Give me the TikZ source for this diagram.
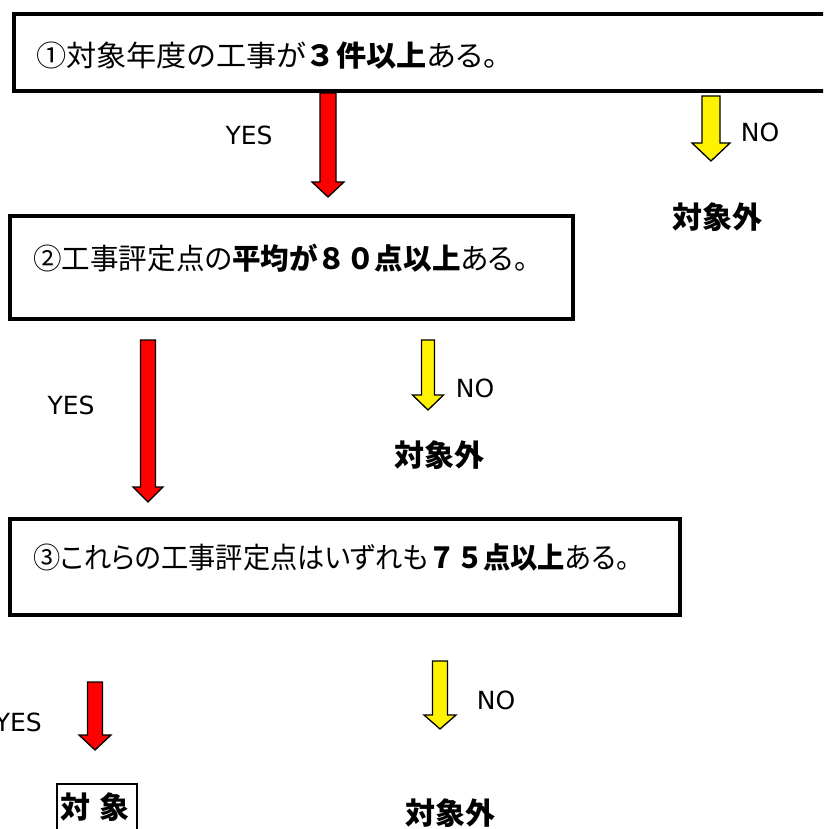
\documentclass[tikz,border=0pt]{standalone}
\usepackage{fontspec}
\setmainfont{Noto Sans CJK JP}[RawFeature=+palt]
\newfontfamily\fwfont{Noto Sans CJK JP}
\newfontfamily\latinfont{DejaVu Sans}
\newcommand\fwd[1]{{\fwfont\bfseries #1}}
\begin{document}
\begin{tikzpicture}[x=1pt,y=-1pt,
  condbox/.style={draw=black,line width=3.5pt,fill=white},
  condtext/.style={anchor=west,inner sep=0pt,font=\fontsize{29}{34}\selectfont},
  yeslabel/.style={inner sep=0pt,font=\latinfont\fontsize{25}{30}\selectfont},
  outlabel/.style={inner sep=0pt,font=\bfseries\fontsize{30}{34}\selectfont},
  redfill/.style={fill=red,draw=black,line width=1.3pt,line join=miter},
  yellowfill/.style={fill=yellow,draw=black,line width=1.3pt,line join=miter}]
\useasboundingbox (0,0) rectangle (823,829);
\clip (0,0) rectangle (823,829);
\fill[white] (0,0) rectangle (823,829);
% block arrow macro: #1 style, #2 cx, #3 top, #4 tip, #5 half shaft, #6 half head, #7 head length
\newcommand\blockarrow[7]{%
  \draw[#1] ({#2-#5},#3) -- ({#2+#5},#3) -- ({#2+#5},{#4-#7}) -- ({#2+#6},{#4-#7})
    -- (#2,#4) -- ({#2-#6},{#4-#7}) -- ({#2-#5},{#4-#7}) -- cycle;}
% boxes
\draw[condbox] (14,14) rectangle (845,91);
\node[condtext] (t1) at (36,56) {\scalebox{1.04}[1]{①対象年度の工事が\fwd{３}\textbf{件以上}ある。}};
\draw[condbox] (10,216) rectangle (573,319);
\node[condtext] (t2) at (33,258) {\scalebox{0.985}[1]{②工事評定点の\textbf{平均が}\fwd{８０}\textbf{点以上}ある。}};
\draw[condbox] (10,519) rectangle (680,615);
\node[condtext] (t3) at (33,557) {\scalebox{0.94}[1]{③これらの工事評定点はいずれも\fwd{７５}\textbf{点以上}ある。}};
% arrows
\blockarrow{redfill}{328}{93}{197}{8}{16}{15}
\blockarrow{yellowfill}{711}{96}{161}{9}{19}{18}
\blockarrow{redfill}{148}{340}{502}{7.5}{15}{15}
\blockarrow{yellowfill}{428}{340}{410}{6.5}{15.5}{15}
\blockarrow{redfill}{95}{682}{750}{7.5}{16}{15}
\blockarrow{yellowfill}{440}{661}{729}{7.5}{16}{14}
% labels
\node[yeslabel] (y1) at (249,135) {YES};
\node[yeslabel] (n1) at (760,132) {NO};
\node[outlabel] (o1) at (717,217) {対象外};
\node[yeslabel] (y2) at (71,405) {YES};
\node[yeslabel] (n2) at (475,388) {NO};
\node[outlabel] (o2) at (439,455) {対象外};
\node[yeslabel,anchor=east] (y3) at (42,722) {YES};
\node[yeslabel] (n3) at (496,700) {NO};
\node[outlabel] (o3) at (450,813) {対象外};
\draw[line width=2pt] (137,845) -- (137,784) -- (57,784) -- (57,845);
\node[outlabel,anchor=west] (ok) at (60,807) {対\hspace{0.3em}象};
\end{tikzpicture}
\end{document}
